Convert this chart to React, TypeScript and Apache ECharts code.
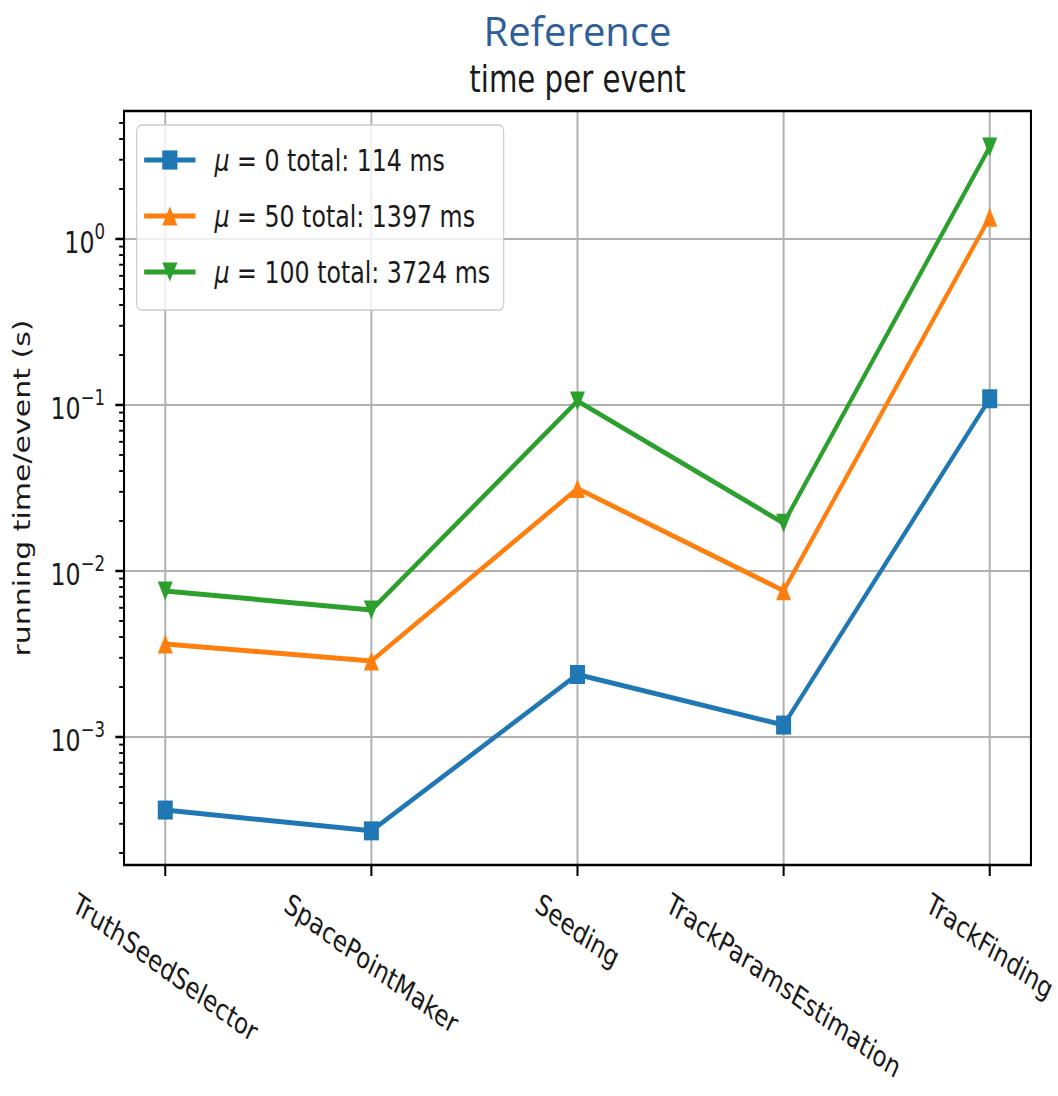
import React, { useEffect, useRef } from "react";
import * as echarts from "echarts";

// The reference image is a matplotlib figure squashed horizontally; we lay out
// the chart unsquashed and compress it with a CSS scaleX.
const SQUASH = 0.79;
const VIEW_W = 1058;
const VIEW_H = 1096;
const CHART_W = Math.round(VIEW_W / SQUASH);

const categories = [
  "TruthSeedSelector",
  "SpacePointMaker",
  "Seeding",
  "TrackParamsEstimation",
  "TrackFinding",
];
const pileups = [0, 50, 100];
const totalsMs = [114, 1397, 3724];
const mu0 = [3.63e-4, 2.72e-4, 2.38e-3, 1.18e-3, 0.109];
const mu50 = [3.63e-3, 2.87e-3, 0.0314, 7.6e-3, 1.35];
const mu100 = [7.58e-3, 5.82e-3, 0.1057, 0.0194, 3.58];
const seriesValues = [mu0, mu50, mu100];
const colors = ["#1f77b4", "#ff7f0e", "#2ca02c"];
const symbols = ["rect", "triangle", "path://M0,0 L2,0 L1,2 Z"];

const yMin = 1.694e-4;
const yMax = 5.9;
const xMin = -0.2;
const xMax = 4.2;
const yMajorTicks = [1e-3, 1e-2, 1e-1, 1];
const minorMantissas = [2, 3, 4, 5, 6, 7, 8, 9];
const minorDecades = [-4, -3, -2, -1, 0];

const FONT = '"DejaVu Sans", sans-serif';
const TEXT = "#1a1a1a";
const LABEL_SIZE = 30;
const XLABEL_SIZE = 29;
const LABEL_ROT = (30 * Math.PI) / 180;

let measureCtx: CanvasRenderingContext2D | null = null;
function textWidth(s: string): number {
  if (!measureCtx) {
    const c = document.createElement("canvas");
    measureCtx = c.getContext("2d");
  }
  if (!measureCtx) return s.length * XLABEL_SIZE * 0.6;
  measureCtx.font = `${XLABEL_SIZE}px "DejaVu Sans"`;
  return measureCtx.measureText(s).width;
}

export default function App() {
  const ref = useRef<HTMLDivElement>(null);

  useEffect(() => {
    if (!ref.current) return;
    const chart = echarts.init(ref.current, undefined, { renderer: "svg" });

    const minorTicks: number[] = [];
    minorDecades.forEach((d) =>
      minorMantissas.forEach((m) => {
        const v = m * Math.pow(10, d);
        if (v > yMin && v < yMax) minorTicks.push(v);
      })
    );

    const names = pileups.map((p, i) => `μ = ${p} total: ${totalsMs[i]} ms`);

    const lineSeries = names.map((name, k) => ({
      type: "line",
      name,
      data: seriesValues[k].map((v, i) => [i, v]),
      symbol: symbols[k],
      symbolSize: 19,
      showSymbol: true,
      lineStyle: { color: colors[k], width: 5 },
      itemStyle: { color: colors[k] },
      z: 3,
      silent: true,
    }));

    const option: any = {
      animation: false,
      backgroundColor: "#ffffff",
      grid: {
        left: 157,
        top: 111,
        width: 1148,
        height: 754,
        show: false,
      },
      graphic: [
        {
          type: "text",
          x: 731,
          y: 31,
          scaleX: 1 / SQUASH,
          style: {
            text: "Reference",
            font: '40px "Open Sans", "Noto Sans", sans-serif',
            fill: "#2e5f9b",
            align: "center",
            verticalAlign: "middle",
          },
        },
        {
          type: "text",
          x: 731,
          y: 79,
          style: {
            text: "time per event",
            font: `37px ${FONT}`,
            fill: TEXT,
            align: "center",
            verticalAlign: "middle",
          },
        },
      ],
      legend: {
        data: names,
        orient: "vertical",
        left: 173,
        top: 125,
        padding: [17, 17, 20, 7],
        itemWidth: 65,
        itemHeight: 24,
        itemGap: 20,
        backgroundColor: "rgba(255,255,255,0.8)",
        borderColor: "#cccccc",
        borderWidth: 1.5,
        borderRadius: 6,
        selectedMode: false,
        z: 10,
        lineStyle: { width: 5 },
        formatter: (name: string) => `{i|μ}{n|${name.slice(1)}}`,
        textStyle: {
          fontFamily: FONT,
          fontSize: LABEL_SIZE,
          color: TEXT,
          lineHeight: 36,
          padding: [0, 0, 0, 19],
          rich: {
            i: { fontFamily: FONT, fontSize: LABEL_SIZE, fontStyle: "italic", color: TEXT, lineHeight: 36 },
            n: { fontFamily: FONT, fontSize: LABEL_SIZE, color: TEXT, lineHeight: 36 },
          },
        },
      },
      xAxis: {
        type: "value",
        min: xMin,
        max: xMax,
        axisLine: { show: false },
        axisTick: { show: false },
        axisLabel: { show: false },
        splitLine: { show: false },
      },
      yAxis: {
        type: "log",
        logBase: 10,
        min: yMin,
        max: yMax,
        axisLine: { show: false },
        axisTick: { show: false },
        splitLine: { show: true, lineStyle: { color: "#b0b0b0", width: 2 } },
        axisLabel: {
          margin: 24,
          showMinLabel: false,
          showMaxLabel: false,
          formatter: (v: number) => {
            const e = Math.log10(v);
            const r = Math.round(e);
            if (Math.abs(e - r) > 1e-6) return "";
            const sup = r < 0 ? "\u2212" + -r : String(r);
            return `{b|10}{s|${sup}}`;
          },
          rich: {
            b: { fontFamily: FONT, fontSize: LABEL_SIZE, color: TEXT, lineHeight: 36, verticalAlign: "bottom" },
            s: { fontFamily: FONT, fontSize: 21, color: TEXT, lineHeight: 36, verticalAlign: "top" },
          },
        },
        name: "running time/event (s)",
        nameLocation: "middle",
        nameGap: 114,
        nameRotate: 90,
        nameTextStyle: { fontFamily: FONT, fontSize: LABEL_SIZE, color: TEXT },
      },
      series: [
        {
          type: "custom",
          name: "x-decor",
          silent: true,
          clip: false,
          z: 1,
          data: categories.map((_, i) => [i, yMin]),
          encode: { x: 0, y: 1 },
          renderItem: (params: any, api: any) => {
            const i = api.value(0);
            const top = api.coord([i, yMax]);
            const bot = api.coord([i, yMin]);
            const label = categories[i];
            const w = textWidth(label);
            const h = XLABEL_SIZE * 1.15;
            const cy =
              bot[1] + 22 + (w * Math.sin(LABEL_ROT) + h * Math.cos(LABEL_ROT)) / 2;
            return {
              type: "group",
              children: [
                {
                  type: "line",
                  shape: { x1: bot[0], y1: top[1], x2: bot[0], y2: bot[1] },
                  style: { stroke: "#b0b0b0", lineWidth: 2.5 },
                },
                {
                  type: "line",
                  shape: { x1: bot[0], y1: bot[1], x2: bot[0], y2: bot[1] + 11 },
                  style: { stroke: "#000000", lineWidth: 2.6 },
                },
                {
                  type: "text",
                  x: bot[0],
                  y: cy,
                  rotation: -LABEL_ROT,
                  style: {
                    text: label,
                    fontFamily: "DejaVu Sans",
                    fontSize: XLABEL_SIZE,
                    fill: TEXT,
                    align: "center",
                    verticalAlign: "middle",
                  },
                },
              ],
            };
          },
        },
        {
          type: "custom",
          name: "frame",
          silent: true,
          clip: false,
          z: 5,
          data: [[xMin, yMax]],
          encode: { x: 0, y: 1 },
          renderItem: (params: any, api: any) => {
            const tl = api.coord([xMin, yMax]);
            const br = api.coord([xMax, yMin]);
            return {
              type: "rect",
              shape: { x: tl[0], y: tl[1], width: br[0] - tl[0], height: br[1] - tl[1] },
              style: { stroke: "#000000", lineWidth: 2.6, fill: "none" },
            };
          },
        },
        {
          type: "custom",
          name: "y-ticks",
          silent: true,
          clip: false,
          z: 5,
          data: [
            ...yMajorTicks.map((v) => [xMin, v, 11, 2.5]),
            ...minorTicks.map((v) => [xMin, v, 6.2, 1.9]),
          ],
          encode: { x: 0, y: 1 },
          renderItem: (params: any, api: any) => {
            const p = api.coord([api.value(0), api.value(1)]);
            const len = api.value(2);
            return {
              type: "line",
              shape: { x1: p[0] - len, y1: p[1], x2: p[0], y2: p[1] },
              style: { stroke: "#000000", lineWidth: api.value(3) },
            };
          },
        },
        ...lineSeries,
      ],
    };

    chart.setOption(option);
    return () => chart.dispose();
  }, []);

  return (
    <div
      style={{
        position: "absolute",
        left: 0,
        top: 0,
        width: VIEW_W,
        height: VIEW_H,
        overflow: "hidden",
        background: "#ffffff",
      }}
    >
      <div
        ref={ref}
        style={{
          width: CHART_W,
          height: VIEW_H,
          transform: `scaleX(${SQUASH})`,
          transformOrigin: "0 0",
        }}
      />
    </div>
  );
}
